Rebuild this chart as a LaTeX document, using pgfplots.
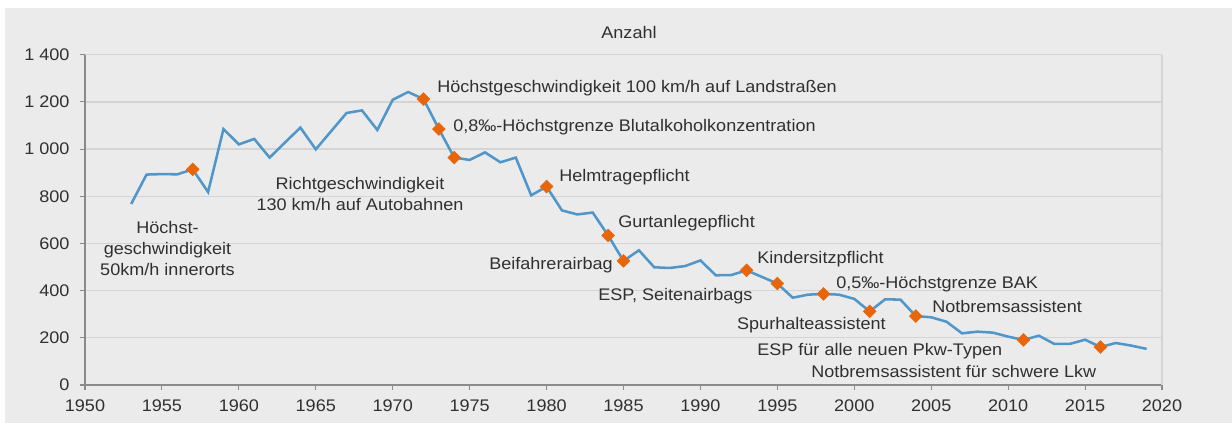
\documentclass[border=0pt]{standalone}
\usepackage{fontspec}
\setmainfont{Liberation Sans}[FakeStretch=1.075]
\usepackage{pgfplots}
\pgfplotsset{compat=1.18}
\definecolor{bg}{HTML}{EBEBEB}
\definecolor{gridc}{HTML}{D4D4D4}
\definecolor{axc}{HTML}{8A8A8A}
\definecolor{txt}{HTML}{303030}
\definecolor{linec}{HTML}{5096C8}
\definecolor{markc}{HTML}{E8650A}
\begin{document}
\fontsize{12.6}{15.75}\selectfont
\begin{tikzpicture}
\fill[white] (0,0) rectangle (924pt,317.25pt);
\fill[bg] (3.75pt,0) rectangle (924pt,311.25pt);
\begin{axis}[
  at={(63.75pt,28.5pt)}, anchor=south west,
  scale only axis, width=807.75pt, height=247.7pt,
  xmin=1950, xmax=2020, ymin=0, ymax=1400,
  xtick={1950,1955,...,2020}, ytick={0,200,...,1400},
  axis lines*=left,
  axis line style={axc, line width=1.2pt},
  tick align=outside, major tick length=3.75pt,
  tick style={axc, line width=0.8pt},
  ymajorgrids, grid style={gridc, line width=0.9pt},
  /pgf/number format/assume math mode=true,
  ticklabel style={font=\fontsize{12.6}{15}\selectfont, text=txt},
  xticklabel style={/pgf/number format/1000 sep={}, yshift=-3pt},
  yticklabel style={/pgf/number format/1000 sep={\ }, xshift=-3.5pt},
  clip=false,
]
\draw[gridc, line width=0.9pt] (rel axis cs:1,0) -- (rel axis cs:1,1);
\addplot[linec, line width=1.9pt, mark=none] coordinates {
(1953,767) (1954,892) (1955,894) (1956,893) (1957,914) (1958,818) (1959,1085)
(1960,1020) (1961,1043) (1962,964) (1963,1028) (1964,1091) (1965,999) (1966,1076)
(1967,1153) (1968,1164) (1969,1081) (1970,1209) (1971,1242) (1972,1212) (1973,1085)
(1974,964) (1975,954) (1976,986) (1977,944) (1978,964) (1979,804) (1980,841)
(1981,740) (1982,723) (1983,731) (1984,634) (1985,526) (1986,571) (1987,499)
(1988,496) (1989,504) (1990,528) (1991,465) (1992,466) (1993,486) (1994,458)
(1995,430) (1996,370) (1997,383) (1998,386) (1999,383) (2000,365) (2001,312)
(2002,363) (2003,362) (2004,292) (2005,287) (2006,268) (2007,219) (2008,226)
(2009,222) (2010,205) (2011,191) (2012,209) (2013,174) (2014,174) (2015,192)
(2016,161) (2017,178) (2018,167) (2019,153)
};
\addplot[only marks, mark=diamond*, mark size=4.8pt, mark options={draw=markc, fill=markc, xscale=1.333}] coordinates {
(1957,914) (1972,1212) (1973,1085) (1974,964) (1980,841) (1984,634) (1985,526)
(1993,486) (1995,430) (1998,386) (2001,312) (2004,292) (2011,191) (2016,161)
};
\end{axis}
\begin{scope}[x=0.75pt, y=-0.75pt, yshift=317.25pt, every node/.style={inner sep=0pt, text=txt}]
\node at (629,33) {Anzahl};
\node[anchor=west] at (437,88) {Höchstgeschwindigkeit 100 km/h auf Landstraßen};
\node[anchor=west] at (453,127) {0,8‰-Höchstgrenze Blutalkoholkonzentration};
\node[anchor=west] at (559,177) {Helmtragepflicht};
\node[anchor=west] at (618,223) {Gurtanlegepflicht};
\node[anchor=east] at (613,265) {Beifahrerairbag};
\node[anchor=west] at (598,296) {ESP, Seitenairbags};
\node[anchor=west] at (757,259) {Kindersitzpflicht};
\node[anchor=west] at (836,284) {0,5‰-Höchstgrenze BAK};
\node[anchor=east] at (886,325) {Spurhalteassistent};
\node[anchor=west] at (932,307) {Notbremsassistent};
\node[anchor=west] at (757,351) {ESP für alle neuen Pkw-Typen};
\node[anchor=west] at (811,372) {Notbremsassistent für schwere Lkw};
\node[align=center] at (360,194) {Richtgeschwindigkeit\\130 km/h auf Autobahnen};
\node[align=center] at (167.5,249) {Höchst-\\geschwindigkeit\\50km/h innerorts};
\end{scope}
\end{tikzpicture}
\end{document}
